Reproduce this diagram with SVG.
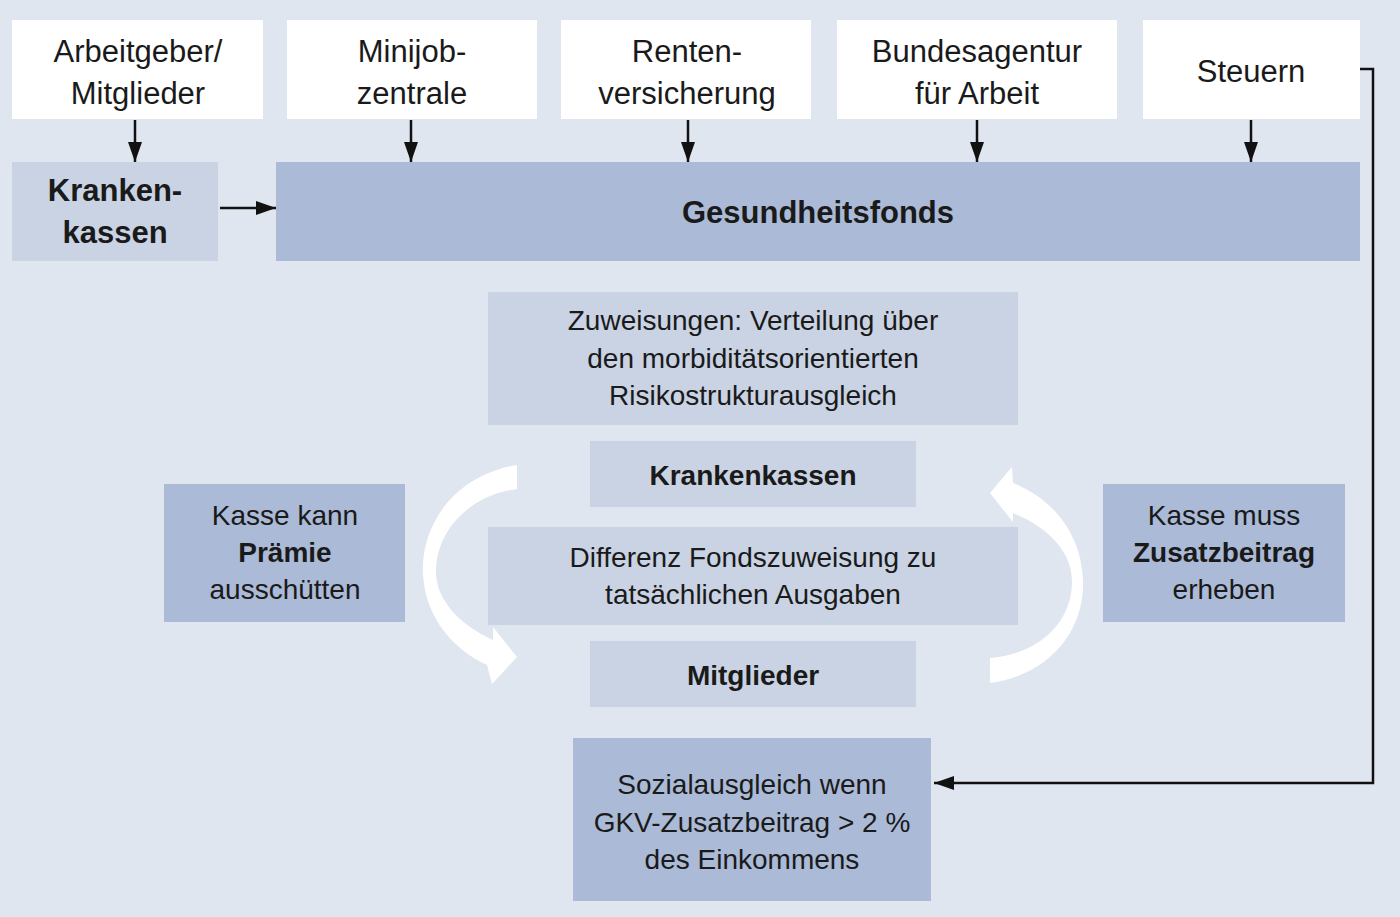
<svg xmlns="http://www.w3.org/2000/svg" width="1400" height="917" viewBox="0 0 1400 917">
<defs>
<marker id="ah" viewBox="0 0 20 14" refX="20" refY="7" markerWidth="20" markerHeight="14" markerUnits="userSpaceOnUse" orient="auto">
<path d="M0,0 L20,7 L0,14 Z" fill="#111"/>
</marker>
<style>
.src{fill:#ffffff}
.lt{fill:#c9d3e4}
.dk{fill:#aabad7}
text{font-family:"Liberation Sans",Arial,sans-serif;font-size:31px;fill:#1a1a1a;text-anchor:middle}
.m{font-size:28px}
.b{font-weight:bold}
.con{stroke:#111;stroke-width:2.5;fill:none}
.loop{fill:#ffffff}
</style>
</defs>
<rect width="1400" height="917" fill="#e0e6f0"/>

<g id="arbeitgeber">
<rect class="src" x="12" y="20" width="251" height="99"/>
<text x="138" y="62">Arbeitgeber/</text>
<text x="138" y="104">Mitglieder</text>
</g>
<g id="minijob">
<rect class="src" x="287" y="20" width="250" height="99"/>
<text x="412" y="62">Minijob-</text>
<text x="412" y="104">zentrale</text>
</g>
<g id="renten">
<rect class="src" x="561" y="20" width="250" height="99"/>
<text x="687" y="62">Renten-</text>
<text x="687" y="104">versicherung</text>
</g>
<g id="bundesagentur">
<rect class="src" x="837" y="20" width="280" height="99"/>
<text x="977" y="62">Bundesagentur</text>
<text x="977" y="104">für Arbeit</text>
</g>
<g id="steuern">
<rect class="src" x="1143" y="20" width="217" height="99"/>
<text x="1251" y="82">Steuern</text>
</g>

<g id="krankenkassen-top">
<rect class="lt" x="12" y="162" width="206" height="99"/>
<text class="b" x="115" y="201">Kranken-</text>
<text class="b" x="115" y="243">kassen</text>
</g>
<g id="gesundheitsfonds">
<rect class="dk" x="276" y="162" width="1084" height="99"/>
<text class="b" x="818" y="223">Gesundheitsfonds</text>
</g>

<g id="zuweisungen">
<rect class="lt" x="488" y="292" width="530" height="133"/>
<text class="m" x="753" y="330">Zuweisungen: Verteilung über</text>
<text class="m" x="753" y="368">den morbiditätsorientierten</text>
<text class="m" x="753" y="405">Risikostrukturausgleich</text>
</g>
<g id="krankenkassen-mid">
<rect class="lt" x="590" y="441" width="326" height="66"/>
<text class="m b" x="753" y="485">Krankenkassen</text>
</g>
<g id="differenz">
<rect class="lt" x="488" y="527" width="530" height="98"/>
<text class="m" x="753" y="567">Differenz Fondszuweisung zu</text>
<text class="m" x="753" y="604">tatsächlichen Ausgaben</text>
</g>
<g id="mitglieder">
<rect class="lt" x="590" y="641" width="326" height="66"/>
<text class="m b" x="753" y="685">Mitglieder</text>
</g>
<g id="praemie">
<rect class="dk" x="164" y="484" width="241" height="138"/>
<text class="m" x="285" y="525">Kasse kann</text>
<text class="m b" x="285" y="562">Prämie</text>
<text class="m" x="285" y="599">ausschütten</text>
</g>
<g id="zusatzbeitrag">
<rect class="dk" x="1103" y="484" width="242" height="138"/>
<text class="m" x="1224" y="525">Kasse muss</text>
<text class="m b" x="1224" y="562">Zusatzbeitrag</text>
<text class="m" x="1224" y="599">erheben</text>
</g>
<g id="sozialausgleich">
<rect class="dk" x="573" y="738" width="358" height="163"/>
<text class="m" x="752" y="794">Sozialausgleich wenn</text>
<text class="m" x="752" y="832">GKV-Zusatzbeitrag &gt; 2 %</text>
<text class="m" x="752" y="869">des Einkommens</text>
</g>

<g id="connectors">
<line class="con" x1="135" y1="120" x2="135" y2="162" marker-end="url(#ah)"/>
<line class="con" x1="411" y1="120" x2="411" y2="162" marker-end="url(#ah)"/>
<line class="con" x1="688" y1="120" x2="688" y2="162" marker-end="url(#ah)"/>
<line class="con" x1="977" y1="120" x2="977" y2="162" marker-end="url(#ah)"/>
<line class="con" x1="1251" y1="120" x2="1251" y2="162" marker-end="url(#ah)"/>
<line class="con" x1="220" y1="208" x2="276" y2="208" marker-end="url(#ah)"/>
<polyline class="con" points="1360,69 1373,69 1373,783 934,783" marker-end="url(#ah)"/>
<path class="loop" d="M517,465 C455,475 420,525 423,575 C426,620 455,650 487,665 L492,684 L517,657 L493,627 L493,640 C460,625 436,600 436,572 C436,530 470,495 517,489 Z"/>
<path class="loop" d="M990,683 C1050,675 1085,630 1083,580 C1081,535 1055,500 1013,483 L1012,467 L990,493 L1013,522 L1013,513 C1050,528 1072,553 1072,582 C1072,625 1035,655 990,658 Z"/>
</g>
</svg>
